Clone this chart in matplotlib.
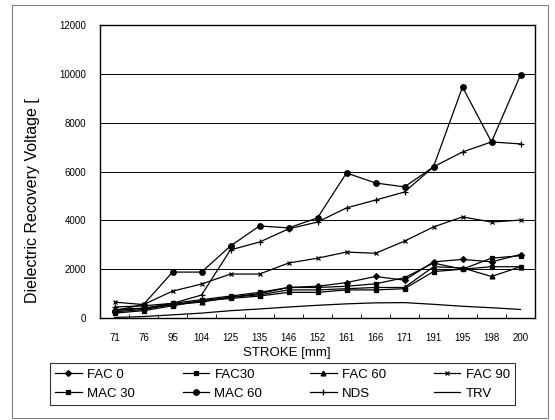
import numpy as np
import matplotlib
matplotlib.use("Agg")
import matplotlib.pyplot as plt
from matplotlib.patches import Rectangle

plt.rcParams['font.family'] = ['Liberation Sans', 'DejaVu Sans']

strokes = ['71', '76', '95', '104', '125', '135', '146', '152', '161', '166',
           '171', '191', '195', '198', '200']

fac0 = [250, 350, 550, 700, 850, 1000, 1250, 1300, 1450, 1700, 1550, 2300, 2400, 2300, 2600]
fac30 = [300, 400, 600, 750, 900, 1050, 1250, 1250, 1300, 1400, 1650, 2250, 2000, 2450, 2550]
fac60 = [350, 400, 550, 650, 850, 950, 1150, 1150, 1200, 1250, 1250, 2100, 2050, 1700, 2100]
fac90 = [650, 550, 1100, 1390, 1800, 1800, 2250, 2450, 2700, 2650, 3150, 3730, 4140, 3930, 4010]
mac30 = [200, 300, 500, 700, 800, 900, 1050, 1050, 1150, 1150, 1200, 1900, 2000, 2100, 2100]
mac60 = [300, 550, 1880, 1880, 2950, 3770, 3690, 4100, 5940, 5530, 5370, 6190, 9460, 7210, 9950]
nds = [450, 500, 600, 940, 2790, 3110, 3650, 3930, 4510, 4830, 5160, 6190, 6800, 7210, 7130]
trv = [20, 60, 130, 200, 300, 370, 450, 520, 580, 620, 630, 560, 480, 420, 350]

series = [
    ('FAC 0', fac0, 'D', 3),
    ('FAC30', fac30, 's', 3),
    ('FAC 60', fac60, '^', 3.5),
    ('FAC 90', fac90, 'x', 3.5),
    ('MAC 30', mac30, 's', 3.5),
    ('MAC 60', mac60, 'o', 4),
    ('NDS', nds, '+', 4),
    ('TRV', trv, None, 0),
]

fig = plt.figure(figsize=(5.55, 4.2), dpi=100)
ax = fig.add_axes([100/555, 1 - 318/420, 435/555, 293/420])

x = np.arange(len(strokes))
lines = []
for name, vals, mk, ms in series:
    ln, = ax.plot(x, vals, color='black', lw=0.9, marker=mk, ms=ms, mew=0.9, label=name)
    lines.append(ln)

ax.set_xlim(-0.5, len(strokes) - 0.5)
ax.set_ylim(0, 12000)
ax.set_yticks(np.arange(0, 12001, 2000))
ax.yaxis.grid(True, color='black', lw=0.7)
ax.set_axisbelow(True)
ax.set_xticks(x)
ax.set_xticklabels(strokes, fontsize=7)
ax.set_xticks(np.arange(-0.5, len(strokes)), minor=True)
ax.tick_params(axis='x', which='major', length=0, pad=11)
ax.tick_params(axis='x', which='minor', direction='in', length=3)
ax.tick_params(axis='y', length=0, labelsize=7, pad=10)
for s in ax.spines.values():
    s.set_linewidth(1.0)

ax.set_xlabel('STROKE [mm]', fontsize=9.5)
ax.xaxis.set_label_coords(0.43, -29/293)
ax.set_ylabel('Dielectric Recovery Voltage [', fontsize=11.5)
ax.yaxis.set_label_coords(-60/435, 0.40)

# row-major legend order like the original
order = [0, 4, 1, 5, 2, 6, 3, 7]
leg = ax.legend([lines[i] for i in order], [series[i][0] for i in order],
                loc='upper left', bbox_to_anchor=(-50/435, -45/293, 465/435, 0),
                mode='expand', ncol=4, frameon=True, fancybox=False, edgecolor='black',
                fontsize=9.5, handlelength=2.0, handletextpad=0.4,
                borderpad=0.4, labelspacing=0.55, borderaxespad=0)
leg.get_frame().set_linewidth(0.8)

fig.patches.append(Rectangle((12/555, 2/420), 536/555, 413/420, transform=fig.transFigure,
                             fill=False, edgecolor='gray', lw=0.8))

fig.savefig('out.png', dpi=100)
